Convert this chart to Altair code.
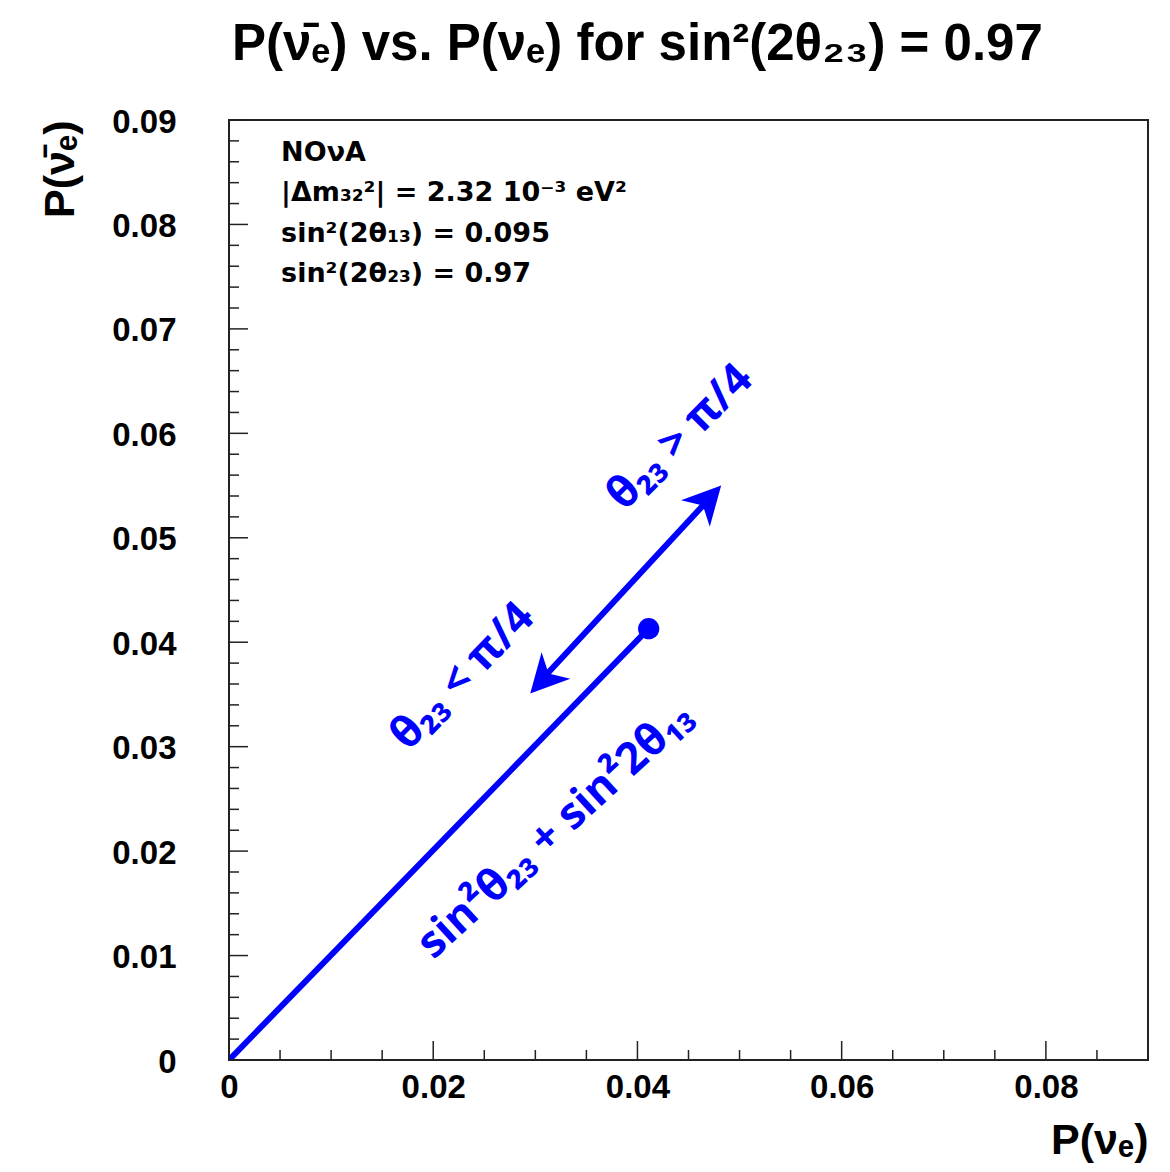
import altair as alt
import pandas as pd

# ---------------- data ----------------
x_major = [0, 0.02, 0.04, 0.06, 0.08]
x_minor = [0.005, 0.01, 0.015, 0.025, 0.03, 0.035, 0.045, 0.05, 0.055,
           0.065, 0.07, 0.075, 0.085]
y_major = [0, 0.01, 0.02, 0.03, 0.04, 0.05, 0.06, 0.07, 0.08, 0.09]
y_minor = [round(0.002 * i, 3) for i in range(1, 45) if i % 5 != 0]

# main line from the origin to the dot
line_x = [0.0, 0.0411]
line_y = [0.0, 0.0413]
dot_x = [0.0411]
dot_y = [0.0413]

# double arrow: shaft and tips
shaft_x = [0.0308, 0.0469]
shaft_y = [0.0366, 0.0536]
tip_lo_x, tip_lo_y = [0.0295], [0.0351]
tip_hi_x, tip_hi_y = [0.0482], [0.0550]

# blue labels
labels = ["\u03b8\u2082\u2083 > \u03c0/4",
          "\u03b8\u2082\u2083 < \u03c0/4",
          "sin\u00b2\u03b8\u2082\u2083 + sin\u00b22\u03b8\u2081\u2083"]
label_x = [0.0442, 0.0229, 0.0320]
label_y = [0.0596, 0.0367, 0.0220]

# info box
info_text = ["NO\u03bdA\n|\u0394m\u2083\u2082\u00b2| = 2.32 10\u207b\u00b3 eV\u00b2\n"
             "sin\u00b2(2\u03b8\u2081\u2083) = 0.095\nsin\u00b2(2\u03b8\u2082\u2083) = 0.97"]
info_x = [0.0051]
info_y = [0.0861]

title_text = ("P(\u03bd\u0304\u2091) vs. P(\u03bd\u2091) for "
              "sin\u00b2(2\u03b8\u2082\u2083) = 0.97")
x_title = "P(\u03bd\u2091)"
y_title = "P(\u03bd\u0304\u2091)"

# ---------------- chart ----------------
W, H = 919, 940
BLUE = "#0000ff"
FONT = "Liberation Sans"

xs = alt.Scale(domain=[0, 0.09], nice=False, zero=False)
ys = alt.Scale(domain=[0, 0.09], nice=False, zero=False)

lab_expr = "datum.value == 0 ? '0' : format(datum.value, '.2f')"

xaxis = alt.Axis(values=x_major, labelExpr=lab_expr, ticks=False, domain=False,
                 grid=False, labelFont=FONT, labelFontSize=33, labelFontWeight="bold",
                 labelColor="black", labelPadding=11, labelFlush=False,
                 labelOverlap=False, title=x_title, titleFont=FONT,
                 titleFontSize=43, titleFontWeight="bold", titleColor="black",
                 titleAlign="right", titleAnchor="end", titleX=W, titleY=93,
                 titleBaseline="alphabetic")
yaxis = alt.Axis(values=y_major, labelExpr=lab_expr, ticks=False, domain=False,
                 grid=False, labelFont=FONT, labelFontSize=33, labelFontWeight="bold",
                 labelColor="black", labelPadding=53, labelFlush=False,
                 labelOverlap=False, labelOffset=2, title=y_title, titleFont=FONT,
                 titleFontSize=43, titleFontWeight="bold", titleColor="black",
                 titleAngle=270, titleAlign="right", titleAnchor="end",
                 titleX=-156, titleY=0, titleBaseline="alphabetic")

df_line = pd.DataFrame({"x": line_x, "y": line_y})
base = alt.Chart(df_line).mark_line(color=BLUE, strokeWidth=6, strokeCap="butt", clip=True).encode(
    x=alt.X("x:Q", scale=xs, axis=xaxis),
    y=alt.Y("y:Q", scale=ys, axis=yaxis),
)

dot = alt.Chart(pd.DataFrame({"x": dot_x, "y": dot_y})).mark_circle(
    color=BLUE, size=452, opacity=1).encode(x="x:Q", y="y:Q")

shaft = alt.Chart(pd.DataFrame({"x": shaft_x, "y": shaft_y})).mark_line(
    color=BLUE, strokeWidth=6, strokeCap="butt").encode(x="x:Q", y="y:Q")

HEAD = "M0,0 L1.03,2 L0,1.42 L-1.03,2 Z"
head_hi = alt.Chart(pd.DataFrame({"x": tip_hi_x, "y": tip_hi_y})).mark_point(
    shape=HEAD, filled=True, color=BLUE, opacity=1, size=1444, angle=42.7,
    strokeWidth=0).encode(x="x:Q", y="y:Q")
head_lo = alt.Chart(pd.DataFrame({"x": tip_lo_x, "y": tip_lo_y})).mark_point(
    shape=HEAD, filled=True, color=BLUE, opacity=1, size=1444, angle=222.7,
    strokeWidth=0).encode(x="x:Q", y="y:Q")

label_angles = [315, 314, 317.4]
label_layers = []
for t, lx, ly, a in zip(labels, label_x, label_y, label_angles):
    label_layers.append(
        alt.Chart(pd.DataFrame({"x": [lx], "y": [ly], "t": [t]})).mark_text(
            font="Open Sans", fontSize=44, fontWeight="bold", color=BLUE,
            angle=a, align="center", baseline="middle").encode(
            x="x:Q", y="y:Q", text="t:N"))

info = alt.Chart(pd.DataFrame({"x": info_x, "y": info_y, "t": info_text})).mark_text(
    font="DejaVu Sans", fontSize=27, fontWeight="bold", color="black",
    align="left", baseline="alphabetic", lineBreak="\n", lineHeight=40.5).encode(
    x="x:Q", y="y:Q", text="t:N")

# inward ticks drawn as rules
xt_major = alt.Chart(pd.DataFrame({"v": x_major})).mark_rule(
    color="#222", strokeWidth=1.5).encode(x="v:Q", y=alt.value(H), y2=alt.value(H - 19))
xt_minor = alt.Chart(pd.DataFrame({"v": x_minor})).mark_rule(
    color="#222", strokeWidth=1.5).encode(x="v:Q", y=alt.value(H), y2=alt.value(H - 10))
yt_major = alt.Chart(pd.DataFrame({"v": y_major})).mark_rule(
    color="#222", strokeWidth=1.5).encode(y="v:Q", x=alt.value(0), x2=alt.value(19))
yt_minor = alt.Chart(pd.DataFrame({"v": y_minor})).mark_rule(
    color="#222", strokeWidth=1.5).encode(y="v:Q", x=alt.value(0), x2=alt.value(10))

chart = alt.layer(
    base, xt_major, xt_minor, yt_major, yt_minor, shaft, head_hi, head_lo, dot,
    info, *label_layers
).properties(
    width=W, height=H,
    background="white",
    padding={"left": 221, "top": 112, "right": 14, "bottom": 104},
    autosize=alt.AutoSizeParams(type="none"),
    title=alt.TitleParams(title_text, font=FONT, fontSize=51, fontWeight="bold",
                          color="black", anchor="start", frame="group", dx=3,
                          offset=57, dy=62, baseline="alphabetic"),
).configure_view(stroke="#222", strokeWidth=2)

chart.save("out.html", embed_options={"renderer": "svg", "actions": False})
